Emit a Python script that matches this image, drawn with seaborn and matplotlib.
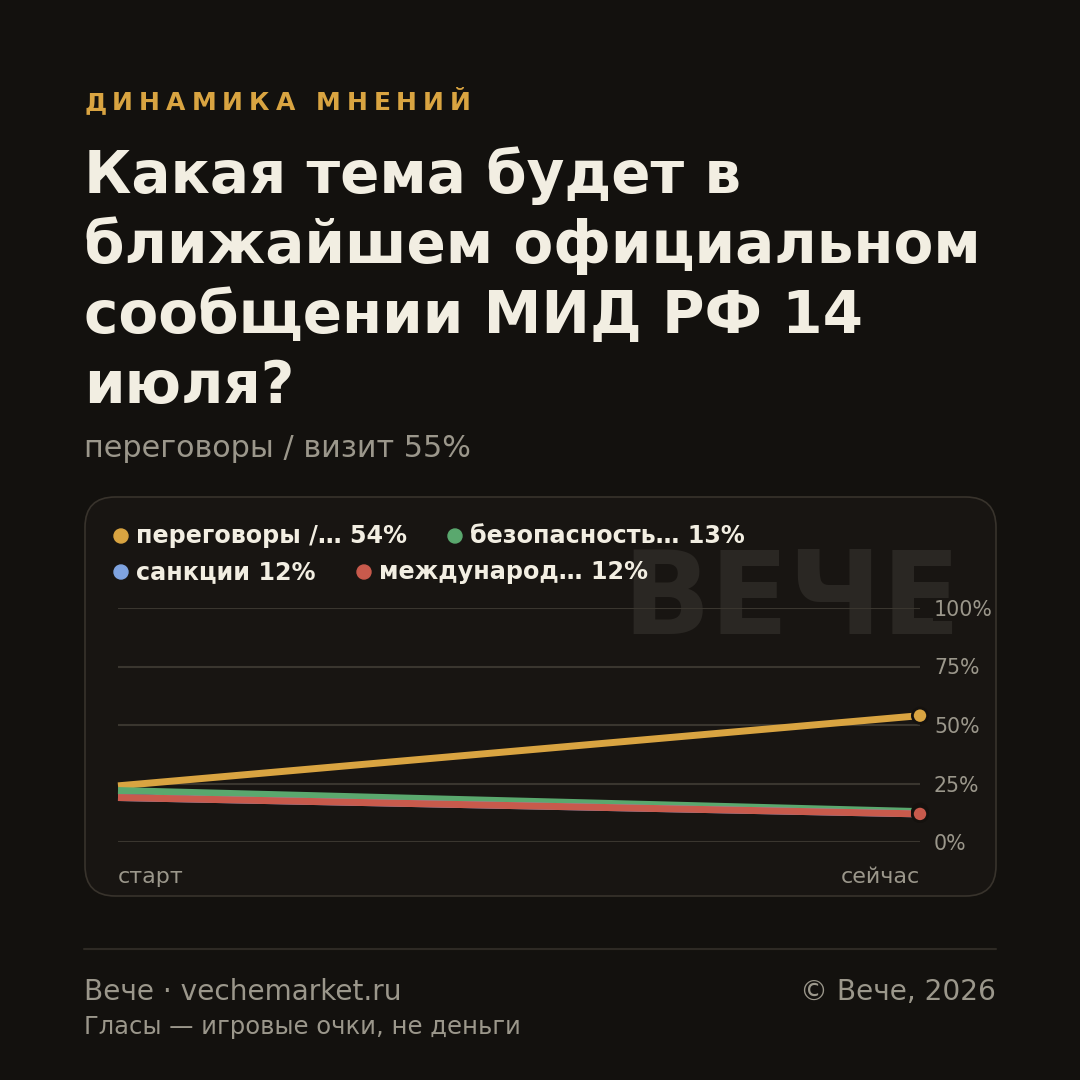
import matplotlib
matplotlib.use("Agg")
import matplotlib.pyplot as plt
from matplotlib.patches import FancyBboxPatch, Circle
from matplotlib.lines import Line2D
import pandas as pd
import seaborn as sns

# colours
BG = "#13110e"
CARD = "#181512"
BORDER = "#38332c"
GRID = "#3a362f"
CREAM = "#f2eee2"
GRAY = "#9b978b"
GOLD = "#d9a441"
WATERMARK = "#2a2723"

# data
steps = [0, 1]
step_labels = ["старт", "сейчас"]
series_names = ["переговоры / визит", "безопасность", "санкции", "международное"]
negotiations = [24, 54]
security = [22, 13]
sanctions = [19, 12]
international = [19, 12]
legend_labels = ["переговоры /… 54%", "безопасность… 13%", "санкции 12%", "международ… 12%"]
colors = ["#d9a441", "#5aa86e", "#7fa3e0", "#c85a4c"]
y_ticks = [0, 25, 50, 75, 100]

header = "ДИНАМИКА МНЕНИЙ"
title_lines = ["Какая тема будет в", "ближайшем официальном", "сообщении МИД РФ 14", "июля?"]
subtitle = "переговоры / визит 55%"
footer_left = "Вече · vechemarket.ru"
footer_right = "© Вече, 2026"
footer_note = "Гласы — игровые очки, не деньги"

df = pd.DataFrame({
    "step": steps * 4,
    "value": negotiations + security + sanctions + international,
    "series": [n for n in series_names for _ in steps],
})

sns.set_theme(style="dark")
plt.rcParams["font.family"] = ["DejaVu Sans"]

W = 1080
def fx(x):
    return x / W
def fy(y):
    return 1 - y / W

fig = plt.figure(figsize=(10.8, 10.8), dpi=100, facecolor=BG)

# card
card = FancyBboxPatch((fx(85), fy(896)), (996 - 85) / W, (896 - 497) / W,
                      boxstyle="round,pad=0,rounding_size=0.028",
                      transform=fig.transFigure, fc=CARD, ec=BORDER, lw=1.2, zorder=-2)
fig.add_artist(card)

# watermark
fig.text(fx(622), fy(634), "ВЕЧЕ", fontsize=83, fontweight="bold", color=WATERMARK,
         ha="left", va="baseline", zorder=-1)

# header with letter spacing
renderer = fig.canvas.get_renderer()
spacing = 6
for i, ch in enumerate(header):
    if i == 0:
        offset = 0
    else:
        probe = fig.text(0, 0, header[:i] + "|", fontsize=18, fontweight="bold")
        bar = fig.text(0, 0, "|", fontsize=18, fontweight="bold")
        offset = probe.get_window_extent(renderer).width - bar.get_window_extent(renderer).width
        probe.remove()
        bar.remove()
    fig.text(fx(84 + offset + i * spacing), fy(110), ch, fontsize=18, fontweight="bold",
             color=GOLD, ha="left", va="baseline")

for i, line in enumerate(title_lines):
    fig.text(fx(84), fy(193 + i * 70), line, fontsize=41.8, fontweight="bold",
             color=CREAM, ha="left", va="baseline")

fig.text(fx(84), fy(457), subtitle, fontsize=21.8, color=GRAY, ha="left", va="baseline")

# chart
ax = fig.add_axes([fx(118), fy(842), (920 - 118) / W, (842 - 608) / W])
ax.patch.set_alpha(0)
sns.lineplot(data=df, x="step", y="value", hue="series", hue_order=series_names,
             palette=colors, lw=5, legend=False, ax=ax, solid_capstyle="butt")
for line in ax.lines:
    line.set_clip_on(False)
last = df[df["step"] == steps[-1]]
sns.scatterplot(data=last, x="step", y="value", hue="series", hue_order=series_names,
                palette=colors, s=120, edgecolor="#14110e", linewidth=2, legend=False,
                ax=ax, zorder=5, clip_on=False)
ax.set_xlim(0, 1)
ax.set_ylim(0, 100)
ax.set_yticks(y_ticks)
ax.set_yticklabels([f"{v}%" for v in y_ticks])
ax.set_xticks([])
ax.yaxis.tick_right()
ax.tick_params(axis="y", length=0, pad=10, labelsize=14.8, labelcolor=GRAY)
for lab in ax.get_yticklabels():
    lab.set_bbox(dict(facecolor=CARD, edgecolor="none", pad=0.5))
ax.grid(axis="y", color=GRID, lw=1.5)
ax.grid(axis="x", visible=False)
ax.set_axisbelow(True)
ax.set_xlabel("")
ax.set_ylabel("")
for sp in ax.spines.values():
    sp.set_visible(False)

fig.text(fx(118), fy(883), step_labels[0], fontsize=16, color=GRAY, ha="left", va="baseline")
fig.text(fx(920), fy(883), step_labels[1], fontsize=16, color=GRAY, ha="right", va="baseline")

# legend
legend_pos = [(121, 536), (455, 536), (121, 572), (364, 572)]
for (lx, ly), lab, col in zip(legend_pos, legend_labels, colors):
    fig.add_artist(Circle((fx(lx), fy(ly)), 7 / W, transform=fig.transFigure, color=col))
    fig.text(fx(lx + 15), fy(ly), lab, fontsize=17.2, fontweight="bold", color=CREAM,
             ha="left", va="center")

# footer
fig.add_artist(Line2D([fx(84), fx(996)], [fy(949), fy(949)], color="#2e2a24", lw=1.5,
                      transform=fig.transFigure))
fig.text(fx(84), fy(1000), footer_left, fontsize=20.2, color=GRAY, ha="left", va="baseline")
fig.text(fx(996), fy(1000), footer_right, fontsize=20.2, color=GRAY, ha="right", va="baseline")
fig.text(fx(84), fy(1034), footer_note, fontsize=17.5, color=GRAY, ha="left", va="baseline")

fig.savefig("out.png", dpi=100, facecolor=BG)
